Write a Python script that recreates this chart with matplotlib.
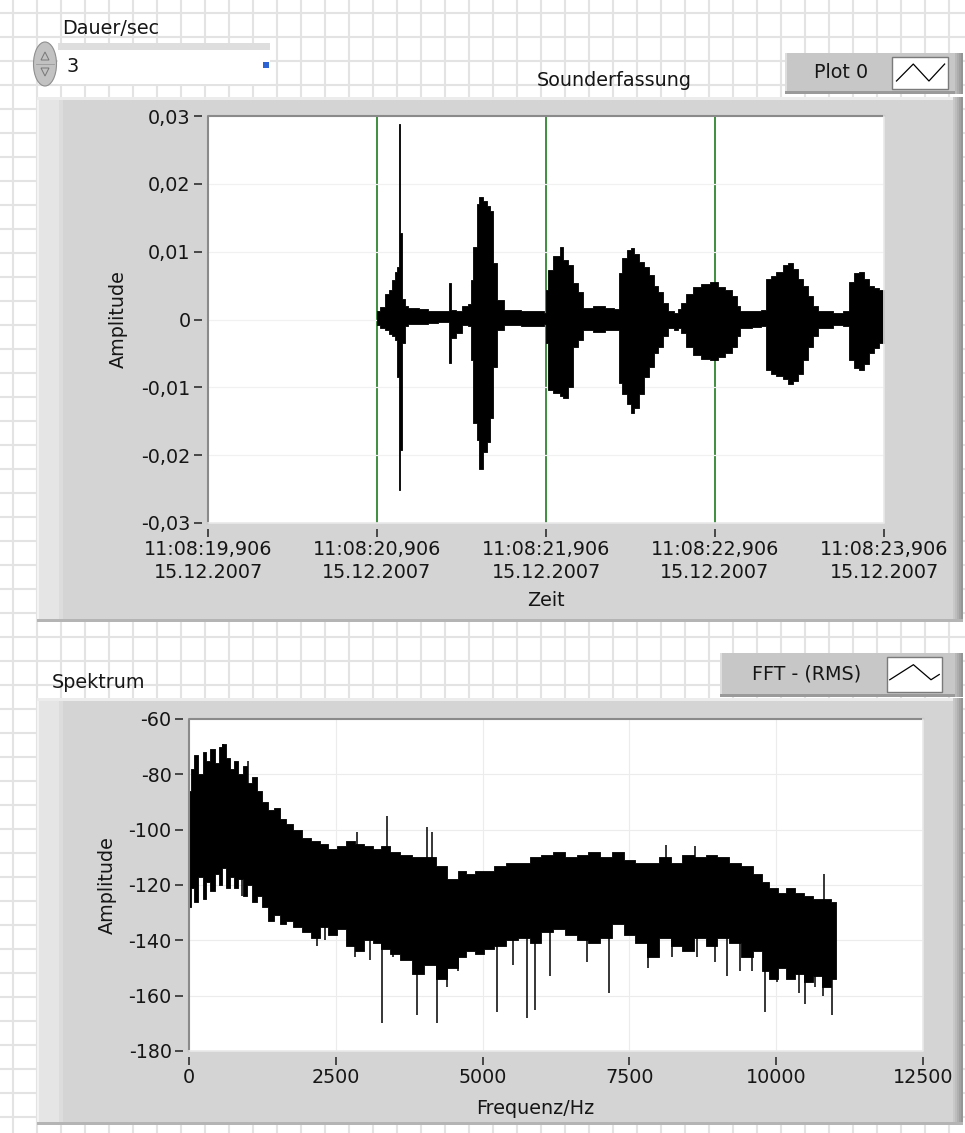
import numpy as np
import matplotlib
matplotlib.use("Agg")
import matplotlib.pyplot as plt
from matplotlib.patches import Rectangle, Ellipse, Polygon

W, H = 965, 1133

# ---------------- Sounderfassung (time signal) ----------------
time_tick_values = [0, 1, 2, 3, 4]
time_tick_clock = ["11:08:19,906", "11:08:20,906", "11:08:21,906",
                   "11:08:22,906", "11:08:23,906"]
time_tick_date = "15.12.2007"
record_offset = 1.0          # recording starts at 11:08:20,906
record_duration = 3          # Dauer/sec
amp_ticks = [-0.03, -0.02, -0.01, 0.0, 0.01, 0.02, 0.03]
amp_tick_labels = ["-0,03", "-0,02", "-0,01", "0", "0,01", "0,02", "0,03"]

# envelope of the recorded waveform (seconds after start, upper / lower amplitude)
wave_t = [0.000, 0.020, 0.045, 0.070, 0.090, 0.105, 0.118, 0.130, 0.138, 0.150,
          0.165, 0.185, 0.250, 0.300, 0.360, 0.428, 0.438, 0.470, 0.500, 0.540,
          0.555, 0.570, 0.590, 0.605, 0.625, 0.650, 0.670, 0.685, 0.710, 0.750,
          0.850, 0.990, 1.000, 1.010, 1.040, 1.080, 1.100, 1.130, 1.160, 1.190,
          1.220, 1.280, 1.350, 1.400, 1.430, 1.450, 1.480, 1.500, 1.520, 1.550,
          1.580, 1.610, 1.640, 1.660, 1.690, 1.720, 1.760, 1.780, 1.800, 1.830,
          1.870, 1.920, 1.970, 2.020, 2.060, 2.100, 2.130, 2.150, 2.220, 2.270,
          2.300, 2.330, 2.360, 2.400, 2.430, 2.460, 2.490, 2.520, 2.550, 2.580,
          2.610, 2.700, 2.760, 2.790, 2.820, 2.850, 2.880, 2.910, 2.940, 2.970,
          3.000]
wave_upper = [0.0013, 0.0018, 0.0038, 0.0043, 0.0058, 0.0070, 0.0077, 0.0288, 0.0128, 0.0030,
              0.0020, 0.0017, 0.0016, 0.0012, 0.0013, 0.0054, 0.0014, 0.0013, 0.0020, 0.0023,
              0.0058, 0.0107, 0.0170, 0.0180, 0.0175, 0.0168, 0.0160, 0.0084, 0.0029, 0.0014,
              0.0013, 0.0010, 0.0043, 0.0073, 0.0093, 0.0107, 0.0088, 0.0080, 0.0054, 0.0040,
              0.0017, 0.0020, 0.0017, 0.0016, 0.0069, 0.0090, 0.0102, 0.0105, 0.0097, 0.0085,
              0.0078, 0.0065, 0.0050, 0.0040, 0.0025, 0.0012, 0.0010, 0.0016, 0.0025, 0.0038,
              0.0048, 0.0052, 0.0055, 0.0048, 0.0043, 0.0035, 0.0020, 0.0013, 0.0012, 0.0014,
              0.0060, 0.0064, 0.0070, 0.0080, 0.0083, 0.0075, 0.0060, 0.0050, 0.0035, 0.0020,
              0.0012, 0.0010, 0.0012, 0.0055, 0.0068, 0.0070, 0.0060, 0.0050, 0.0047, 0.0043,
              0.0040]
wave_lower = [-0.0008, -0.0012, -0.0016, -0.0021, -0.0025, -0.0030, -0.0085, -0.0252, -0.0192, -0.0035,
              -0.0010, -0.0006, -0.0006, -0.0005, -0.0004, -0.0064, -0.0027, -0.0020, -0.0008, -0.0010,
              -0.0060, -0.0153, -0.0178, -0.0220, -0.0195, -0.0180, -0.0145, -0.0070, -0.0015, -0.0008,
              -0.0009, -0.0006, -0.0035, -0.0104, -0.0108, -0.0113, -0.0115, -0.0100, -0.0040, -0.0030,
              -0.0015, -0.0018, -0.0016, -0.0015, -0.0094, -0.0110, -0.0125, -0.0138, -0.0130, -0.0110,
              -0.0085, -0.0070, -0.0050, -0.0040, -0.0025, -0.0012, -0.0015, -0.0012, -0.0020, -0.0040,
              -0.0052, -0.0058, -0.0060, -0.0056, -0.0050, -0.0040, -0.0025, -0.0012, -0.0011, -0.0010,
              -0.0075, -0.0080, -0.0083, -0.0088, -0.0095, -0.0090, -0.0080, -0.0060, -0.0040, -0.0025,
              -0.0013, -0.0008, -0.0010, -0.0060, -0.0072, -0.0075, -0.0065, -0.0050, -0.0042, -0.0035,
              -0.0030]

# ---------------- Spektrum (FFT RMS) ----------------
freq_ticks = [0, 2500, 5000, 7500, 10000, 12500]
freq_tick_labels = ["0", "2500", "5000", "7500", "10000", "12500"]
db_ticks = [-180, -160, -140, -120, -100, -80, -60]
db_tick_labels = ["-180", "-160", "-140", "-120", "-100", "-80", "-60"]

spec_f = [0, 60, 120, 200, 260, 330, 400, 470, 540, 600,
          660, 720, 800, 880, 950, 1030, 1100, 1200, 1300, 1400,
          1500, 1600, 1700, 1850, 2000, 2150, 2300, 2450, 2600, 2750,
          2900, 3050, 3200, 3350, 3500, 3700, 3900, 4100, 4300, 4500,
          4650, 4800, 4950, 5100, 5300, 5500, 5700, 5900, 6100, 6300,
          6500, 6700, 6900, 7100, 7300, 7500, 7700, 7900, 8100, 8300,
          8500, 8700, 8900, 9100, 9300, 9500, 9700, 9800, 9950, 10100,
          10250, 10400, 10550, 10700, 10850, 11025]
spec_hi = [-86, -78, -73, -80, -72, -75, -71, -76, -70, -69,
           -74, -78, -75, -80, -77, -83, -81, -86, -90, -93,
           -92, -96, -98, -100, -103, -104, -105, -107, -106, -104,
           -105, -106, -107, -106, -108, -109, -110, -110, -113, -118,
           -115, -116, -115, -115, -113, -112, -112, -110, -109, -108,
           -110, -109, -108, -110, -108, -111, -112, -112, -110, -112,
           -109, -110, -109, -110, -112, -113, -116, -119, -121, -123,
           -121, -123, -124, -125, -125, -126]
spec_lo = [-128, -121, -126, -117, -125, -119, -122, -116, -120, -114,
           -121, -117, -121, -118, -124, -120, -126, -124, -128, -133,
           -131, -134, -133, -135, -137, -139, -135, -138, -136, -142,
           -144, -140, -141, -143, -145, -147, -152, -149, -154, -150,
           -146, -144, -145, -143, -142, -140, -139, -141, -137, -136,
           -138, -140, -141, -139, -134, -138, -141, -146, -139, -142,
           -144, -139, -142, -139, -141, -146, -144, -151, -154, -150,
           -154, -152, -155, -153, -157, -154]

peak_f = [580, 1000, 2860, 3370, 4050, 4140, 8120, 8620, 10810]
peak_db = [-69, -75, -101, -95, -99, -101, -105.5, -106, -116]
dip_f = [900, 1360, 2180, 2320, 2830, 3080, 3290, 3480, 3880, 4040,
         4220, 4390, 4580, 5250, 5520, 5760, 5900, 6150, 6780, 7150,
         7820, 8230, 8650, 8960, 9160, 9380, 9580, 9810, 10010, 10390,
         10490, 10660, 10800, 10950]
dip_db = [-124, -127, -142, -140, -146, -147, -170, -146, -167, -142,
          -170, -157, -151, -166, -149, -168, -165, -153, -148, -159,
          -150, -146, -146, -148, -153, -151, -151, -166, -155, -159,
          -163, -157, -160, -167]

# ---------------- figure ----------------
plt.rcParams['font.family'] = ['DejaVu Sans']
FS = 13.8
TXT = '#161616'

fig = plt.figure(figsize=(W / 100, H / 100), dpi=100)
fig.patch.set_facecolor('white')


def fig_rect(x0, y0, x1, y1):
    return [x0 / W, 1 - y1 / H, (x1 - x0) / W, (y1 - y0) / H]


bg = fig.add_axes([0, 0, 1, 1], zorder=0)
bg.set_xlim(0, W)
bg.set_ylim(H, 0)
bg.axis('off')

# panel grid
for gx in np.arange(13, W, 24):
    bg.plot([gx, gx], [0, H], color='#e3e3e3', lw=1.5, zorder=1, solid_capstyle='butt')
for gy in np.arange(13, H, 24):
    bg.plot([0, W], [gy, gy], color='#e3e3e3', lw=1.5, zorder=1, solid_capstyle='butt')


def rect(x0, y0, x1, y1, fc, z=2, ec='none', lw=0):
    bg.add_patch(Rectangle((x0, y0), x1 - x0, y1 - y0, fc=fc, ec=ec, lw=lw, zorder=z))


def frame(x0, y0, x1, y1):
    rect(x0, y0, x1, y1, '#d4d4d4')
    rect(x0, y0, x0 + 22, y1, '#e5e5e5', 2.1)
    rect(x0, y0, x0 + 2, y1, '#f3f3f3', 2.2)
    rect(x0 + 22, y0, x0 + 26, y1, '#dcdcdc', 2.1)
    rect(x0, y0, x1, y0 + 3, '#ececec', 2.2)
    for i, c in enumerate(['#c8c8c8', '#bdbdbd', '#b0b0b0', '#a2a2a2', '#959595']):
        rect(x1 - 10 + 2 * i, y0, x1 - 8 + 2 * i, y1, c, 2.3)
    rect(x0, y1 - 3, x1, y1, '#b4b4b4', 2.3)


def legend_box(x0, y0, x1, y1, label, sx0, sx1, pts):
    rect(x0, y0, x1, y1, '#c7c7c7', 3)
    rect(x0, y0, x0 + 2, y1, '#dedede', 3.1)
    rect(x0, y1 - 3, x1, y1, '#9a9a9a', 3.1)
    for i, c in enumerate(['#b8b8b8', '#acacac', '#a0a0a0', '#949494']):
        rect(x1 - 8 + 2 * i, y0, x1 - 6 + 2 * i, y1, c, 3.1)
    sy0, sy1 = y0 + 4, y1 - 5
    rect(sx0, sy0, sx1, sy1, 'white', 3.2, ec='#7a7a7a', lw=1.0)
    xs = [sx0 + p[0] * (sx1 - sx0) for p in pts]
    ys = [sy1 - p[1] * (sy1 - sy0) for p in pts]
    bg.plot(xs, ys, color='black', lw=0.9, zorder=3.3)
    bg.text((x0 + sx0) / 2 + 3, (y0 + y1) / 2 - 1, label, ha='center', va='center',
            fontsize=FS, color=TXT, zorder=3.4)


frame(37, 97, 963, 622)
frame(37, 698, 963, 1125)

# numeric control "Dauer/sec"
bg.text(62, 29, 'Dauer/sec', ha='left', va='center', fontsize=FS, color=TXT, zorder=3)
rect(58, 43, 270, 50, '#dedede', 2.5)
rect(58, 50, 270, 84, 'white', 2.5)
bg.add_patch(Ellipse((45, 64), 23, 44, fc='#c2c2c2', ec='#8e8e8e', lw=0.8, zorder=2.8))
bg.plot([36, 54], [64, 64], color='#9a9a9a', lw=0.6, zorder=2.9)
bg.add_patch(Polygon([[41, 60], [49, 60], [45, 52]], closed=True, fc='none', ec='#777777',
                     lw=0.7, zorder=2.9))
bg.add_patch(Polygon([[41, 68], [49, 68], [45, 76]], closed=True, fc='none', ec='#777777',
                     lw=0.7, zorder=2.9))
bg.text(66, 66, str(record_duration), ha='left', va='center', fontsize=FS, color=TXT, zorder=3)
rect(263, 62, 269, 68, '#2d63d2', 3)

# titles and legends
bg.text(614, 80, 'Sounderfassung', ha='center', va='center', fontsize=FS, color=TXT, zorder=3)
legend_box(785, 53, 963, 94, 'Plot 0', 892, 948,
           [(0.08, 0.25), (0.38, 0.78), (0.66, 0.25), (0.94, 0.78)])
bg.text(52, 682, 'Spektrum', ha='left', va='center', fontsize=FS, color=TXT, zorder=3)
legend_box(720, 653, 963, 697, 'FFT - (RMS)', 887, 942,
           [(0.05, 0.35), (0.48, 0.78), (0.80, 0.35), (0.95, 0.50)])


def style_axes(ax):
    ax.set_facecolor('white')
    for s in ax.spines.values():
        s.set_color('none')
    ax.spines['left'].set_position(('outward', 4))
    ax.spines['bottom'].set_position(('outward', 4))
    ax.tick_params(axis='both', direction='out', length=5.5, width=1.1, color='#202020',
                   labelsize=FS, labelcolor=TXT, pad=3)
    # inset border of the plot area
    ax.plot([0, 0, 1], [0, 1, 1], transform=ax.transAxes, color='#8a8a8a', lw=1.5,
            clip_on=False, zorder=6)
    ax.plot([0, 1, 1], [0, 0, 1], transform=ax.transAxes, color='#e9e9e9', lw=1.2,
            clip_on=False, zorder=6)


# ---- waveform axes ----
ax1 = fig.add_axes(fig_rect(208, 116, 884, 523), zorder=5)
style_axes(ax1)
ax1.set_xlim(0, 4)
ax1.set_ylim(-0.03, 0.03)
ax1.set_xticks(time_tick_values)
ax1.set_xticklabels([c + '\n' + time_tick_date for c in time_tick_clock], linespacing=1.22)
ax1.set_yticks(amp_ticks)
ax1.set_yticklabels(amp_tick_labels)
for tv in time_tick_values[1:-1]:
    ax1.axvline(tv, color='#1f7a1f', lw=1.2, zorder=1)
for av in amp_ticks[1:-1]:
    ax1.axhline(av, color='#f1f1f1', lw=0.9, zorder=1.5)
t_abs = np.asarray(wave_t) + record_offset
ax1.fill_between(t_abs, wave_lower, wave_upper, step='post', color='black', lw=0.6,
                 edgecolor='black', zorder=3)
ax1.set_xlabel('Zeit', fontsize=FS, color=TXT, va='center')
ax1.xaxis.set_label_coords(0.5, (523 - 600) / 407)
ax1.set_ylabel('Amplitude', fontsize=FS, color=TXT, va='center')
ax1.yaxis.set_label_coords((118 - 208) / 676, 0.5)

# ---- spectrum axes ----
ax2 = fig.add_axes(fig_rect(189, 719, 923, 1051), zorder=5)
style_axes(ax2)
ax2.set_xlim(0, 12500)
ax2.set_ylim(-180, -60)
ax2.set_xticks(freq_ticks)
ax2.set_xticklabels(freq_tick_labels)
ax2.set_yticks(db_ticks)
ax2.set_yticklabels(db_tick_labels)
ax2.grid(True, color='#ececec', lw=0.8, zorder=0)
ax2.set_axisbelow(True)
ax2.fill_between(spec_f, spec_lo, spec_hi, step='mid', color='black', lw=0.6,
                 edgecolor='black', zorder=3)
mid = (np.asarray(spec_hi) + np.asarray(spec_lo)) / 2
ax2.vlines(peak_f, peak_db, np.interp(peak_f, spec_f, mid), color='black', lw=1.1, zorder=3)
ax2.vlines(dip_f, dip_db, np.interp(dip_f, spec_f, mid), color='black', lw=1.1, zorder=3)
ax2.set_xlabel('Frequenz/Hz', fontsize=FS, color=TXT, va='center')
ax2.xaxis.set_label_coords((535 - 189) / 734, (1051 - 1109) / 332)
ax2.set_ylabel('Amplitude', fontsize=FS, color=TXT, va='center')
ax2.yaxis.set_label_coords((107 - 189) / 734, 0.5)

fig.savefig('out.png', dpi=100)
